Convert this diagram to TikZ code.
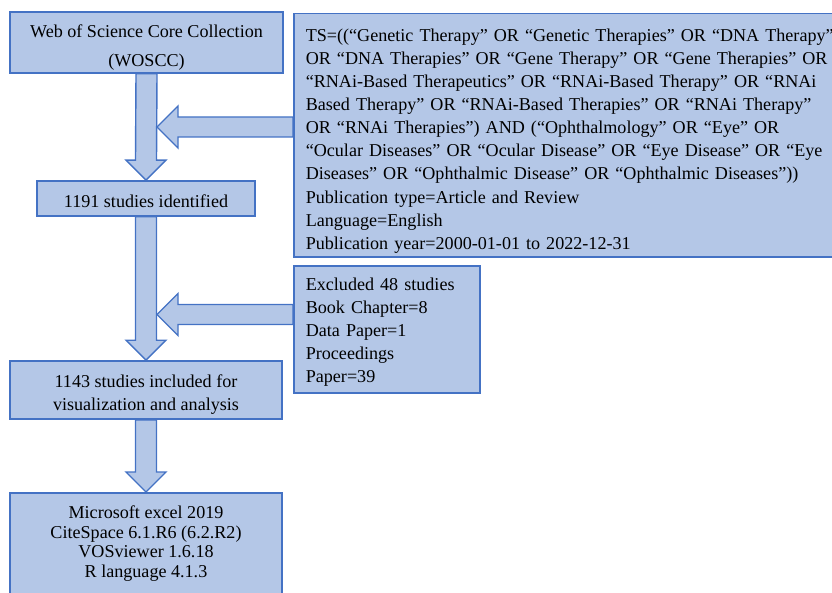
\documentclass[tikz,border=0pt]{standalone}
\usepackage{fontspec}
\setmainfont{Liberation Serif}
\usetikzlibrary{calc,backgrounds}
\definecolor{boxfill}{HTML}{B4C7E7}
\definecolor{boxline}{HTML}{4472C4}
\tikzset{
    box/.style = {
        draw            = boxline,
        fill            = boxfill,
        line width      = 1.6pt,
        inner sep       = 0pt,
        font            = \fontsize{18.1}{23.1}\selectfont,
    },
    blockarrow/.style = {
        draw            = boxline,
        fill            = boxfill,
        line width      = 1.4pt,
    }
}
\newcommand\blockdown[2]{%
  \filldraw[blockarrow] ($(#1)+(-10.5,0)$) -- ($(#2)+(-10.5,-20)$) -- ($(#2)+(-20,-20)$) -- (#2)
    -- ($(#2)+(20,-20)$) -- ($(#2)+(10.5,-20)$) -- ($(#1)+(10.5,0)$) -- cycle;}
\newcommand\blockleft[2]{%
  \filldraw[blockarrow] ($(#1)+(0,-10)$) -- ($(#2)+(21,-10)$) -- ($(#2)+(21,-21)$) -- (#2)
    -- ($(#2)+(21,21)$) -- ($(#2)+(21,10)$) -- ($(#1)+(0,10)$) -- cycle;}
\newcommand\fullline[1]{\leavevmode\hbox to \hsize{#1}\par}
\newcommand\raggedln[1]{\leavevmode\hbox{#1}\par}
\begin{document}
\begin{tikzpicture}[x=1pt,y=-1pt]
  \useasboundingbox (0,0) rectangle (832,593);

  % Coluna principal
  \node[box,align=center,minimum width=273pt,minimum height=61pt] (wos) at (146.5,42.5)
    {\rule{0pt}{23pt}Web of Science Core Collection\\[5.9pt](WOSCC)};
  \node[box,minimum width=218pt,minimum height=35pt] (ident) at (146,198.5)
    {\rule{0pt}{18.5pt}1191 studies identified};
  \node[box,align=center,minimum width=272pt,minimum height=58pt] (incl) at (146,390)
    {\rule{0pt}{22pt}1143 studies included for\\visualization and analysis};
  \node[box,align=center,minimum width=272pt,anchor=north,inner ysep=13pt,text depth=80pt,
    font=\fontsize{18.1}{19.5}\selectfont] (tools) at (146,492)
    {Microsoft excel 2019\\CiteSpace 6.1.R6 (6.2.R2)\\VOSviewer 1.6.18\\R language 4.1.3};

  % Busca
  \node[box,anchor=north west,text width=525pt,inner xsep=12pt,minimum height=243.5pt] (query) at (293,12.7) {%
    \fullline{\rule{0pt}{24pt}TS=((“Genetic Therapy” OR “Genetic Therapies” OR “DNA Therapy”}
    \fullline{OR “DNA Therapies” OR “Gene Therapy” OR “Gene Therapies” OR}
    \fullline{“RNAi-Based Therapeutics” OR “RNAi-Based Therapy” OR “RNAi}
    \fullline{Based Therapy” OR “RNAi-Based Therapies” OR “RNAi Therapy”}
    \fullline{OR “RNAi Therapies”) AND (“Ophthalmology” OR “Eye” OR}
    \fullline{“Ocular Diseases” OR “Ocular Disease” OR “Eye Disease” OR “Eye}
    \raggedln{Diseases” OR “Ophthalmic Disease” OR “Ophthalmic Diseases”))}
    \raggedln{Publication type=Article and Review}
    \raggedln{Language=English}
    \raggedln{Publication year=2000-01-01 to 2022-12-31}};

  % Exclusão
  \node[box,anchor=north west,text width=162pt,inner xsep=12pt,minimum height=127pt] (excl) at (293,265) {%
    \raggedln{\rule{0pt}{18.4pt}Excluded 48 studies}
    \raggedln{Book Chapter=8}
    \raggedln{Data Paper=1}
    \raggedln{Proceedings}
    \raggedln{Paper=39}};

  \coordinate (tipA) at (157,127);
  \coordinate (tipB) at (157,314.5);

  \begin{scope}[on background layer]
    \blockdown{wos.south}{ident.north}
    \blockdown{ident.south}{incl.north}
    \blockdown{incl.south}{tools.north}
    \blockleft{query.west |- tipA}{tipA}
    \blockleft{excl.west |- tipB}{tipB}
  \end{scope}
\end{tikzpicture}
\end{document}
